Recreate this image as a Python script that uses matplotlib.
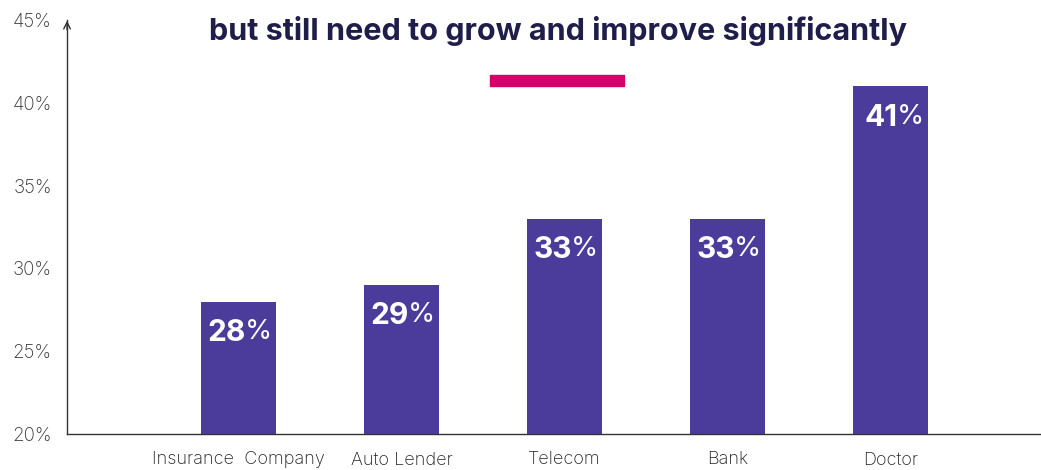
import matplotlib.pyplot as plt

# Data
categories = ['Insurance  Company', 'Auto Lender', 'Telecom', 'Bank', 'Doctor']
values = [28, 29, 33, 33, 41]
yticks = [20, 25, 30, 35, 40, 45]

bar_color = '#4b3b9b'
title_color = '#1f1d4a'
accent = '#d6006b'
axis_color = '#333333'

fig = plt.figure(figsize=(10.41, 4.7), dpi=100)
ax = fig.add_axes([0.0644, 0.0766, 0.9346, 0.8808])

x = range(len(categories))
ax.bar(x, values, width=0.46, color=bar_color, zorder=2)

# value labels inside the bars: bold number, lighter percent sign
for i, v in enumerate(values):
    ax.text(i + 0.045, v - 1.05, f'{v}', ha='right', va='top', color='white',
            fontsize=21.5, fontweight='bold', family='Inter')
    ax.text(i + 0.037, v - 1.05, '%', ha='left', va='top', color='white',
            fontsize=20, family='Inter')

ax.set_xlim(-1.052, 4.917)
ax.set_ylim(20, 45)
ax.set_yticks(yticks)
ax.set_yticklabels([f'{t}%' for t in yticks], family='Inter', fontsize=13.5,
                   color=axis_color, fontweight='light')
ax.set_xticks(list(x))
ax.set_xticklabels(categories, family='Inter', fontsize=13, color='#222222',
                   fontweight='light')
ax.tick_params(axis='y', length=0, pad=11)
ax.tick_params(axis='x', length=0, pad=12.5)

for s in ['top', 'right']:
    ax.spines[s].set_visible(False)
for s in ['left', 'bottom']:
    ax.spines[s].set_color(axis_color)
    ax.spines[s].set_linewidth(1)

# arrow head on the y axis
ax.annotate('', xy=(0, 1.005), xytext=(0, 0.97), xycoords='axes fraction',
            arrowprops=dict(arrowstyle='->', color=axis_color, lw=1,
                            mutation_scale=12))

fig.text(0.536, 0.915, 'but still need to grow and improve significantly',
         ha='center', va='baseline', fontsize=22, fontweight='bold',
         family='Inter', color=title_color)

# accent bar under the title
fig.patches.append(plt.Rectangle((490 / 1041, 1 - 86 / 470), 134 / 1041, 11 / 470,
                                 transform=fig.transFigure, color=accent,
                                 figure=fig))

fig.savefig('out.png', dpi=100)
